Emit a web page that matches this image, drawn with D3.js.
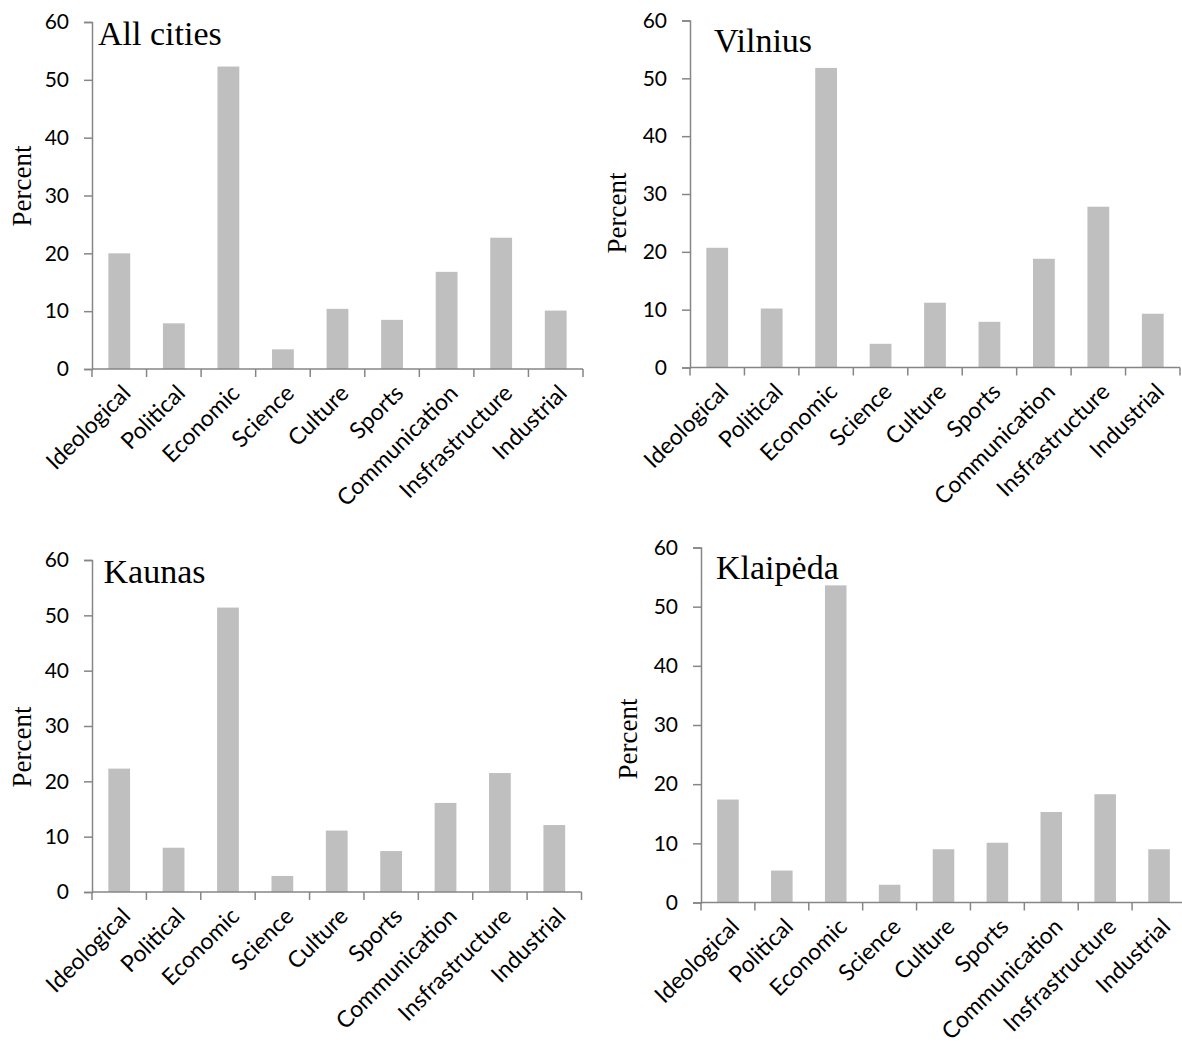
<!DOCTYPE html>
<html>
<head>
<meta charset="utf-8">
<script src="https://cdn.jsdelivr.net/npm/d3@7"></script>
<style>
  html, body { margin: 0; padding: 0; background: #ffffff; }
  svg { display: block; }
</style>
</head>
<body>
<svg id="chart" width="1182" height="1046"></svg>
<script>
const categories = ["Ideological", "Political", "Economic", "Science", "Culture", "Sports", "Communication", "Insfrastructure", "Industrial"];
const yTicks = [0, 10, 20, 30, 40, 50, 60];
const panelTitles = ["All cities", "Vilnius", "Kaunas", "Klaipėda"];
const allCities = [20.0, 7.9, 52.3, 3.4, 10.4, 8.5, 16.8, 22.7, 10.1];
const vilnius   = [20.7, 10.2, 51.8, 4.1, 11.2, 7.9, 18.8, 27.8, 9.3];
const kaunas    = [22.3, 8.0, 51.4, 2.9, 11.1, 7.4, 16.1, 21.5, 12.1];
const klaipeda  = [17.4, 5.4, 53.6, 3.0, 9.0, 10.1, 15.3, 18.3, 9.0];
const seriesList = [allCities, vilnius, kaunas, klaipeda];

// layout of each panel (pixel frame)
const layouts = [
  { x0: 92,  x1: 583,  yTop: 22,    yBot: 369,   tx: 98,  ty: 45,  px: 31,  py: 186 },
  { x0: 690, x1: 1180, yTop: 20.5,  yBot: 367.5, tx: 714, ty: 52,  px: 626, py: 213 },
  { x0: 92,  x1: 581.5, yTop: 560,  yBot: 892,   tx: 103.5, ty: 583, px: 31, py: 747 },
  { x0: 701, x1: 1186, yTop: 547.5, yBot: 902.5, tx: 716, ty: 579, px: 637, py: 739 }
];

const svg = d3.select("#chart");
const axisColor = "#868686";
const barColor = "#BFBFBF";
const sansFont = "Lato, 'Open Sans', sans-serif";
const serifFont = "'Liberation Serif', 'Times New Roman', serif";

seriesList.forEach((values, i) => {
  const L = layouts[i];
  const x = d3.scaleBand().domain(categories).range([L.x0, L.x1]).paddingInner(0.6).paddingOuter(0.3);
  const y = d3.scaleLinear().domain([0, 60]).range([L.yBot, L.yTop]);
  const g = svg.append("g");

  // bars
  g.selectAll("rect.bar").data(values).join("rect")
    .attr("class", "bar")
    .attr("x", (d, j) => x(categories[j]))
    .attr("width", x.bandwidth())
    .attr("y", d => y(d))
    .attr("height", d => y(0) - y(d))
    .attr("fill", barColor);

  // y axis
  const yAxis = d3.axisLeft(y).tickValues(yTicks).tickSize(8).tickPadding(15);
  const ya = g.append("g").attr("transform", `translate(${L.x0},0)`).call(yAxis);
  ya.select(".domain").attr("stroke", axisColor).attr("stroke-width", 1.5);
  ya.selectAll(".tick line").attr("stroke", axisColor).attr("stroke-width", 1.5);
  ya.selectAll(".tick text").attr("fill", "#000").style("font-family", sansFont).style("font-size", "21px");

  // x axis: boundary ticks between categories
  const step = x.step();
  const boundaries = d3.range(categories.length + 1).map(k => L.x0 + k * step);
  const xa = g.append("g");
  xa.append("line")
    .attr("x1", L.x0).attr("x2", L.x1)
    .attr("y1", y(0)).attr("y2", y(0))
    .attr("stroke", axisColor).attr("stroke-width", 1.5);
  xa.selectAll("line.tk").data(boundaries).join("line")
    .attr("class", "tk")
    .attr("x1", d => d).attr("x2", d => d)
    .attr("y1", y(0)).attr("y2", y(0) + 8)
    .attr("stroke", axisColor).attr("stroke-width", 1.5);

  // category labels
  xa.selectAll("text.cat").data(categories).join("text")
    .attr("class", "cat")
    .attr("transform", d => `translate(${x(d) + x.bandwidth() / 2 + 7},${y(0) + 20}) rotate(-45)`)
    .attr("text-anchor", "end")
    .attr("dy", "0.35em")
    .style("font-family", sansFont)
    .style("font-size", "23px")
    .attr("fill", "#000")
    .text(d => d);

  // title
  g.append("text")
    .attr("x", L.tx).attr("y", L.ty)
    .style("font-family", serifFont)
    .style("font-size", "34px")
    .attr("fill", "#000")
    .text(panelTitles[i]);

  // y label
  g.append("text")
    .attr("transform", `translate(${L.px},${L.py}) rotate(-90)`)
    .attr("text-anchor", "middle")
    .style("font-family", serifFont)
    .style("font-size", "27px")
    .attr("fill", "#000")
    .text("Percent");
});
</script>
</body>
</html>
